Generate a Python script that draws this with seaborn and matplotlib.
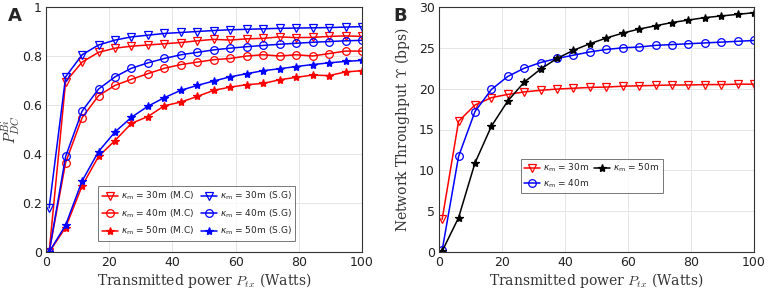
import numpy as np
import pandas as pd
import matplotlib
matplotlib.use("Agg")
import matplotlib.pyplot as plt
from matplotlib.font_manager import FontProperties
import seaborn as sns

# ---- data ----
power = [1.0, 6.21, 11.42, 16.63, 21.84, 27.05, 32.26, 37.47, 42.68, 47.89,
         53.11, 58.32, 63.53, 68.74, 73.95, 79.16, 84.37, 89.58, 94.79, 100.0]

mc30 = [0.0, 0.695, 0.775, 0.815, 0.832, 0.84, 0.845, 0.85, 0.855, 0.862,
        0.868, 0.865, 0.87, 0.872, 0.878, 0.875, 0.876, 0.88, 0.882, 0.88]
mc40 = [0.0, 0.365, 0.548, 0.638, 0.68, 0.705, 0.728, 0.75, 0.765, 0.775,
        0.785, 0.79, 0.8, 0.805, 0.8, 0.805, 0.8, 0.81, 0.82, 0.82]
mc50 = [0.0, 0.1, 0.27, 0.39, 0.455, 0.525, 0.553, 0.597, 0.612, 0.635,
        0.66, 0.673, 0.683, 0.688, 0.703, 0.713, 0.722, 0.72, 0.735, 0.74]
sg30 = [0.18, 0.715, 0.805, 0.845, 0.865, 0.878, 0.885, 0.892, 0.896, 0.9,
        0.904, 0.907, 0.909, 0.911, 0.913, 0.914, 0.915, 0.916, 0.918, 0.92]
sg40 = [0.0, 0.39, 0.575, 0.665, 0.715, 0.75, 0.772, 0.79, 0.805, 0.815,
        0.825, 0.832, 0.838, 0.843, 0.848, 0.852, 0.856, 0.859, 0.862, 0.864]
sg50 = [0.0, 0.11, 0.29, 0.41, 0.49, 0.55, 0.595, 0.63, 0.66, 0.68,
        0.698, 0.715, 0.728, 0.74, 0.748, 0.757, 0.765, 0.772, 0.778, 0.782]

thr30 = [4.0, 16.0, 18.0, 18.9, 19.3, 19.6, 19.8, 19.95, 20.05, 20.15,
         20.2, 20.3, 20.35, 20.4, 20.45, 20.45, 20.5, 20.5, 20.55, 20.55]
thr40 = [0.2, 11.7, 17.2, 19.9, 21.5, 22.5, 23.2, 23.7, 24.1, 24.5,
         24.8, 25.0, 25.1, 25.3, 25.4, 25.5, 25.6, 25.7, 25.8, 25.9]
thr50 = [0.1, 4.2, 10.9, 15.4, 18.5, 20.8, 22.4, 23.7, 24.7, 25.5,
         26.2, 26.8, 27.3, 27.7, 28.1, 28.4, 28.7, 28.9, 29.1, 29.3]

labels_a = [r"$\kappa_{\rm m}$ = 30m (M.C)", r"$\kappa_{\rm m}$ = 40m (M.C)",
            r"$\kappa_{\rm m}$ = 50m (M.C)", r"$\kappa_{\rm m}$ = 30m (S.G)",
            r"$\kappa_{\rm m}$ = 40m (S.G)", r"$\kappa_{\rm m}$ = 50m (S.G)"]
labels_b = [r"$\kappa_{\rm m}$ = 30m", r"$\kappa_{\rm m}$ = 40m", r"$\kappa_{\rm m}$ = 50m"]

sns.set_theme(style="white")
plt.rcParams['font.family'] = ['DejaVu Sans']
plt.rcParams['mathtext.fontset'] = 'cm'

fig = plt.figure(figsize=(7.68, 2.92), dpi=100)
axA = fig.add_axes([46/768, 1 - 252/292, (362-46)/768, (252-7)/292])
axB = fig.add_axes([439/768, 1 - 252/292, (754-439)/768, (252-7)/292])

def draw(ax, y, color, marker, label, filled):
    df = pd.DataFrame({"x": power, "y": y})
    kw = dict(marker=marker, markersize=5.5 if marker != '*' else 6,
              markeredgecolor=color, markeredgewidth=0.9,
              markerfacecolor=(color if filled else 'none'))
    sns.lineplot(data=df, x="x", y="y", ax=ax, color=color, linewidth=1.1,
                 label=label, **kw)

draw(axA, mc30, 'red', 'v', labels_a[0], False)
draw(axA, mc40, 'red', 'o', labels_a[1], False)
draw(axA, mc50, 'red', '*', labels_a[2], True)
draw(axA, sg30, 'blue', 'v', labels_a[3], False)
draw(axA, sg40, 'blue', 'o', labels_a[4], False)
draw(axA, sg50, 'blue', '*', labels_a[5], True)

draw(axB, thr30, 'red', 'v', labels_b[0], False)
draw(axB, thr40, 'blue', 'o', labels_b[1], False)
draw(axB, thr50, 'black', '*', labels_b[2], True)

for ax in (axA, axB):
    ax.set_xlim(0, 100)
    ax.set_xticks([0, 20, 40, 60, 80, 100])
    ax.grid(True, color='#e6e6e6', linewidth=0.7)
    ax.tick_params(axis='both', labelsize=9, colors='#222222', length=2,
                   direction='in', pad=3)
    for s in ax.spines.values():
        s.set_color('#333333')
        s.set_linewidth(0.8)
    ax.set_xlabel(r"Transmitted power $P_{tx}$ (Watts)", family='serif',
                  fontsize=10, color='#333333', labelpad=1)

axA.set_ylim(0, 1)
axA.set_yticks([0, 0.2, 0.4, 0.6, 0.8, 1])
axA.set_yticklabels(['0', '0.2', '0.4', '0.6', '0.8', '1'])
axA.set_ylabel(r"$P_{DC}^{Bi}$", fontsize=11, color='#333333')
axA.yaxis.set_label_coords((22-46)/316, 0.5)

axB.set_ylim(0, 30)
axB.set_yticks([0, 5, 10, 15, 20, 25, 30])
axB.set_ylabel(r"Network Throughput $\Upsilon$ (bps)", family='serif',
               fontsize=10, color='#333333')
axB.yaxis.set_label_coords((412-439)/315, 0.5)

legprop = FontProperties(family='DejaVu Sans', size=6.5, math_fontfamily='dejavusans')

legA = axA.legend(ncol=2, prop=legprop, loc='lower left',
                  bbox_to_anchor=((98-46)/(362-46), (252-241)/(252-7)),
                  frameon=True, fancybox=False,
                  edgecolor='#555555', handlelength=1.8, columnspacing=0.8,
                  handletextpad=0.3, borderpad=0.4, labelspacing=0.55,
                  borderaxespad=0)
legA.get_frame().set_linewidth(0.7)

legB = axB.legend(ncol=2, prop=legprop, loc='lower left',
                  bbox_to_anchor=((521-439)/(754-439), (252-193)/(252-7)),
                  frameon=True, fancybox=False,
                  edgecolor='#555555', handlelength=1.8, columnspacing=0.5,
                  handletextpad=0.3, borderpad=0.35, labelspacing=0.35,
                  borderaxespad=0)
legB.get_frame().set_linewidth(0.7)

fig.text(8/768, 1 - 16/292, "A", fontsize=13, fontweight='bold', va='center')
fig.text(393/768, 1 - 16/292, "B", fontsize=13, fontweight='bold', va='center')

fig.savefig("out.png", dpi=100)
